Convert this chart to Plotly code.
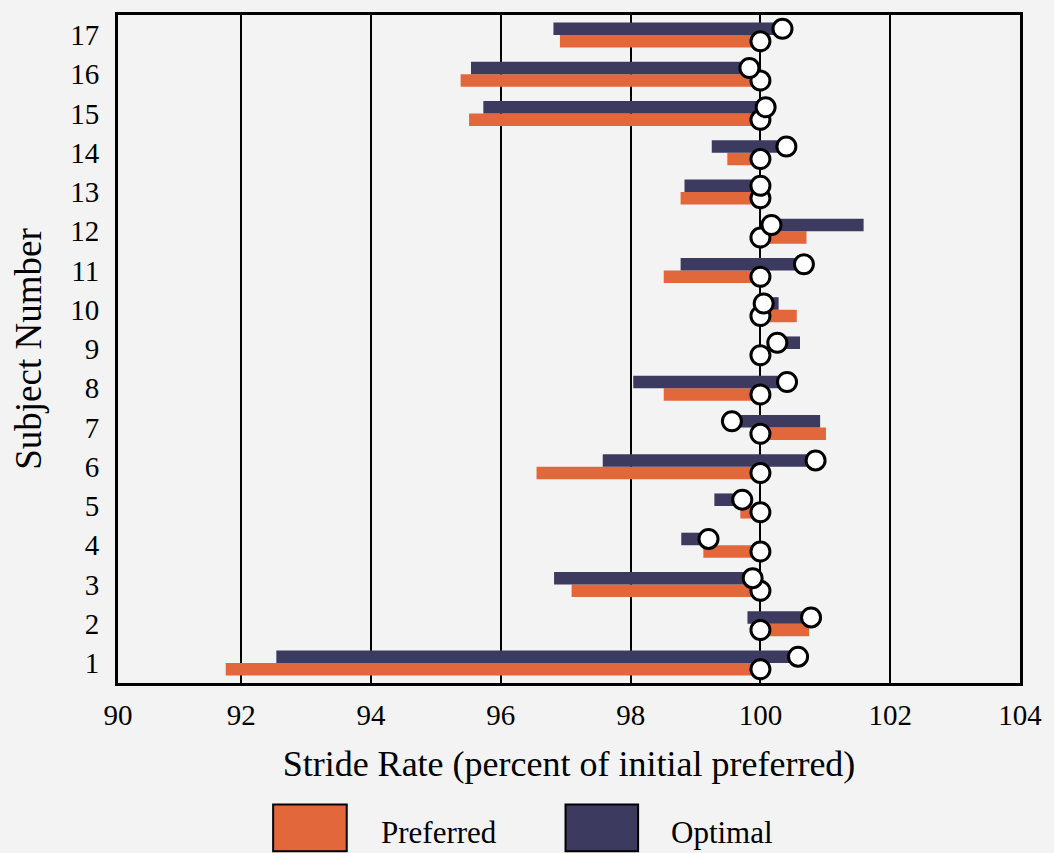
import plotly.graph_objects as go

# Stride rate per subject, as percent of the initial preferred rate
subjects = list(range(1, 18))
subject_labels = [str(s) for s in subjects]

# Preferred stride rate: bar extent (low, high) and final value (circle)
pref_lo = [91.76, 100.00, 97.09, 99.12, 99.69, 96.55, 100.00, 98.51, 100.00,
           100.00, 98.51, 100.00, 98.77, 99.49, 95.51, 95.38, 96.91]
pref_hi = [100.00, 100.75, 100.00, 100.00, 100.00, 100.00, 101.01, 100.00, 100.00,
           100.56, 100.00, 100.71, 100.00, 100.00, 100.00, 100.00, 100.00]
pref_final = [100.00] * 17

# Optimal stride rate: bar extent (low, high) and final value (circle)
opt_lo = [92.54, 99.80, 96.82, 98.78, 99.29, 97.57, 99.56, 98.04, 100.26,
          100.05, 98.77, 100.17, 98.83, 99.25, 95.73, 95.54, 96.81]
opt_hi = [100.58, 100.78, 99.88, 99.20, 99.72, 100.85, 100.92, 100.41, 100.61,
          100.28, 100.67, 101.59, 100.00, 100.40, 100.08, 99.83, 100.34]
opt_final = [100.58, 100.78, 99.88, 99.20, 99.72, 100.85, 99.56, 100.41, 100.26,
             100.05, 100.67, 100.17, 100.00, 100.40, 100.08, 99.83, 100.34]

x_ticks = [90, 92, 94, 96, 98, 100, 102, 104]
x_tick_labels = [str(v) for v in x_ticks]

ORANGE = "#E2673B"
NAVY = "#3C3B5F"
BG = "#F3F3F3"
FONT = "Liberation Serif, Times New Roman, serif"

BAR_W = 0.32
X_START = 90.1  # frame begins just past 90

fig = go.Figure()

fig.add_trace(go.Bar(
    name="Preferred", orientation="h", y=subjects,
    base=pref_lo, x=[h - l for l, h in zip(pref_lo, pref_hi)],
    width=BAR_W, offset=-BAR_W, marker=dict(color=ORANGE, line=dict(width=0)),
    showlegend=False,
))
fig.add_trace(go.Bar(
    name="Optimal", orientation="h", y=subjects,
    base=opt_lo, x=[h - l for l, h in zip(opt_lo, opt_hi)],
    width=BAR_W, offset=0, marker=dict(color=NAVY, line=dict(width=0)),
    showlegend=False,
))

circle = dict(symbol="circle", size=19, color="white", line=dict(color="black", width=3))
fig.add_trace(go.Scatter(
    x=pref_final, y=[s - BAR_W / 2 for s in subjects], mode="markers",
    marker=circle, showlegend=False,
))
fig.add_trace(go.Scatter(
    x=opt_final, y=[s + BAR_W / 2 for s in subjects], mode="markers",
    marker=circle, showlegend=False,
))

# plot area in pixels, used to place the legend boxes below the axis
L, R, T, B = 118, 1025, 12, 683
W, H = 1054, 853


def px(x):
    return (x - L) / (R - L)


def py(y):
    return (B - y) / (B - T)


shapes = []
annotations = []
legend_items = [("Preferred", ORANGE, 274, 348, 380), ("Optimal", NAVY, 568, 641, 672)]
for label, color, x0, x1, tx in legend_items:
    shapes.append(dict(type="rect", xref="paper", yref="paper",
                       x0=px(x0), x1=px(x1), y0=py(805), y1=py(852),
                       fillcolor=color, line=dict(color="black", width=2)))
    annotations.append(dict(text=label, xref="paper", yref="paper",
                            x=px(tx), y=py(833), xanchor="left", yanchor="middle",
                            showarrow=False, font=dict(family=FONT, size=31, color="black")))

tickvals = [max(v, X_START) for v in x_ticks]

fig.update_layout(
    width=W, height=H,
    margin=dict(l=L, r=W - R, t=T, b=H - B),
    paper_bgcolor=BG, plot_bgcolor=BG,
    barmode="overlay",
    font=dict(family=FONT, color="black"),
    shapes=shapes, annotations=annotations,
    xaxis=dict(
        range=[X_START, 104], tickvals=tickvals, ticktext=x_tick_labels,
        showgrid=True, gridcolor="black", gridwidth=1.5, zeroline=False,
        showline=True, linecolor="black", linewidth=3, mirror=True,
        ticks="", ticklabelstandoff=4, tickfont=dict(size=29),
        title=dict(text="Stride Rate (percent of initial preferred)",
                   font=dict(size=36), standoff=22),
    ),
    yaxis=dict(
        range=[0.49, 17.51], tickvals=subjects, ticktext=subject_labels,
        showgrid=False, zeroline=False,
        showline=True, linecolor="black", linewidth=3, mirror=True,
        ticks="", ticklabelstandoff=10, tickfont=dict(size=29),
        title=dict(text="Subject Number", font=dict(size=37), standoff=18),
    ),
)

fig.write_html("out.html")
